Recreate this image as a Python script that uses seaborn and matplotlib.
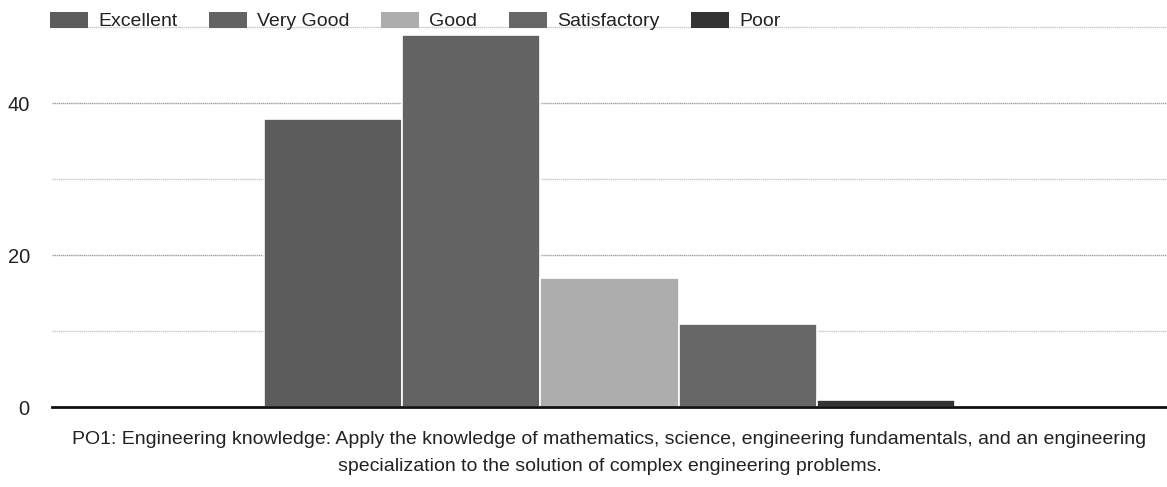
import matplotlib
matplotlib.use("Agg")
import matplotlib.pyplot as plt
from matplotlib.patches import Patch
import seaborn as sns
import pandas as pd

categories = ["Excellent", "Very Good", "Good", "Satisfactory", "Poor"]
values = [38, 49, 17, 11, 1]
colors = ["#5c5c5c", "#636363", "#adadad", "#676767", "#333333"]
xlabel = ("PO1: Engineering knowledge: Apply the knowledge of mathematics, science, engineering fundamentals, and an engineering\n"
          "specialization to the solution of complex engineering problems.")
yticks = [0, 20, 40]

sns.set_theme(style="white")
plt.rcParams['font.family'] = ['Liberation Sans', 'DejaVu Sans']

df = pd.DataFrame({"group": ["PO1"] * len(categories), "rating": categories, "count": values})

fig = plt.figure(figsize=(11.67, 4.87), dpi=100)
ax = fig.add_axes([0.0446, 0.164, 0.9554, 0.803])

sns.barplot(data=df, x="group", y="count", hue="rating", hue_order=categories,
            palette=colors, width=0.62, saturation=1, edgecolor="white", linewidth=1.2,
            ax=ax, legend=False)

ax.set_xlim(-0.5, 0.5)
ax.set_ylim(0, 51.5)
ax.set_yticks(yticks)
ax.set_yticks([10, 30, 50], minor=True)
ax.yaxis.grid(True, which="major", color="#a0a0a0", linewidth=1, linestyle=(0, (1, 0.5)))
ax.yaxis.grid(True, which="minor", color="#c8c8c8", linewidth=1, linestyle=(0, (1, 0.5)))
ax.set_axisbelow(True)
ax.tick_params(axis="y", which="both", length=0, labelsize=14.5, pad=16, labelcolor="#222222")
ax.tick_params(axis="x", length=0)
ax.set_xticks([])
for s in ["top", "right", "left"]:
    ax.spines[s].set_visible(False)
ax.spines["bottom"].set_color("#111111")
ax.spines["bottom"].set_linewidth(2)
ax.set_ylabel("")
ax.set_xlabel(xlabel, fontsize=14, color="#222222", labelpad=17, linespacing=1.8)

handles = [Patch(facecolor=c, edgecolor="none") for c in colors]
leg = fig.legend(handles, categories, loc="center left", bbox_to_anchor=(50 / 1167, 1 - 21 / 487),
                 ncol=5, frameon=False, fontsize=14, handlelength=1.96, handleheight=0.88,
                 columnspacing=1.62, handletextpad=0.52, borderpad=0, borderaxespad=0,
                 labelcolor="#222222")

fig.savefig("out.png", dpi=100)
